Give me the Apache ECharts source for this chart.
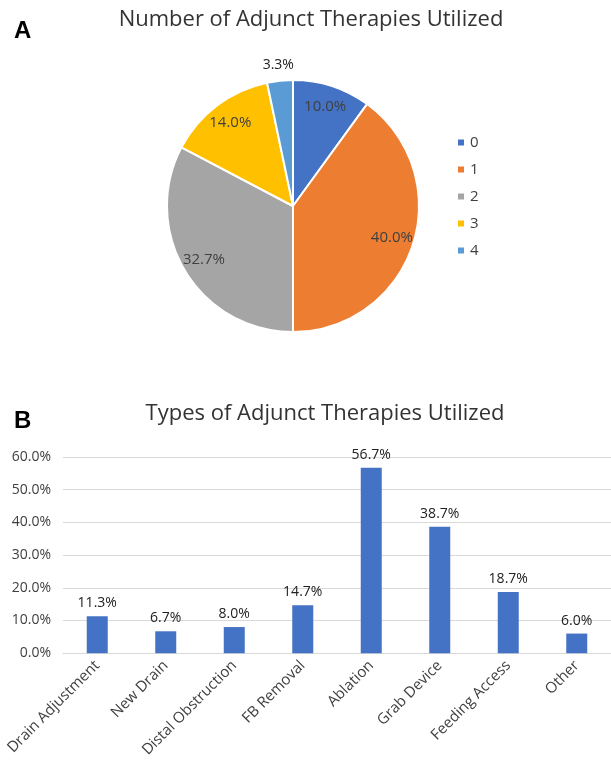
<!DOCTYPE html>
<html>
<head>
<meta charset="utf-8">
<script src="https://cdn.jsdelivr.net/npm/echarts@6/dist/echarts.min.js"></script>
<style>
  html, body { margin: 0; padding: 0; background: #fff; }
  #chart { width: 611px; height: 760px; }
</style>
</head>
<body>
<div id="chart"></div>
<script>
// Panel A: number of adjunct therapies per case (percent of cases)
const pieNames = ['0', '1', '2', '3', '4'];
const pieValues = [10.0, 40.0, 32.7, 14.0, 3.3];
const pieColors = ['#4472C4', '#ED7D31', '#A5A5A5', '#FFC000', '#5B9BD5'];

// Panel B: types of adjunct therapies (percent of cases)
const barCategories = ['Drain Adjustment', 'New Drain', 'Distal Obstruction', 'FB Removal',
  'Ablation', 'Grab Device', 'Feeding Access', 'Other'];
const barValues = [11.3, 6.7, 8.0, 14.7, 56.7, 38.7, 18.7, 6.0];
const yTicks = [0, 10, 20, 30, 40, 50, 60];

const FONT = '"Open Sans", "Noto Sans", sans-serif';
const TEXT = '#404040';

const chart = echarts.init(document.getElementById('chart'), null, { renderer: 'canvas' });

const pieData = pieNames.map((n, i) => ({ name: n, value: pieValues[i], itemStyle: { color: pieColors[i] } }));
const pct = v => v.toFixed(1) + '%';

// Labels for the larger slices sit inside the pie; the small last slice is labelled above the rim
const innerLabelData = pieNames.map((n, i) => ({
  name: n, value: pieValues[i],
  label: { show: i < pieNames.length - 1 }
}));
const outerLabelData = pieNames.map((n, i) => ({
  name: n, value: pieValues[i],
  label: { show: i === pieNames.length - 1 }
}));

const option = {
  animation: false,
  backgroundColor: '#ffffff',
  textStyle: { fontFamily: FONT },
  title: [
    { text: 'A', left: 9, top: 14, textStyle: { fontFamily: 'Liberation Sans, Arial, sans-serif', fontWeight: 'bold', fontSize: 24, color: '#000' } },
    { text: 'Number of Adjunct Therapies Utilized', left: 306, top: 4, textAlign: 'center',
      textStyle: { fontFamily: FONT, fontWeight: 'normal', fontSize: 22, color: '#333' } },
    { text: 'B', left: 9, top: 404, textStyle: { fontFamily: 'Liberation Sans, Arial, sans-serif', fontWeight: 'bold', fontSize: 24, color: '#000' } },
    { text: 'Types of Adjunct Therapies Utilized', left: 320, top: 398, textAlign: 'center',
      textStyle: { fontFamily: FONT, fontWeight: 'normal', fontSize: 22, color: '#333' } }
  ],
  legend: {
    orient: 'vertical',
    left: 451, top: 130,
    itemWidth: 8, itemHeight: 8, itemGap: 12,
    icon: 'rect',
    data: pieNames,
    textStyle: { fontFamily: FONT, fontSize: 15, color: TEXT }
  },
  grid: { left: 63, top: 457, width: 558, height: 197, containLabel: false },
  xAxis: {
    type: 'category',
    data: barCategories,
    axisLine: { show: true, lineStyle: { color: '#D9D9D9' } },
    axisTick: { show: false },
    axisLabel: { rotate: 45, interval: 0, fontFamily: FONT, fontSize: 15, color: TEXT, margin: 10 }
  },
  yAxis: {
    type: 'value',
    min: yTicks[0], max: yTicks[yTicks.length - 1], interval: 10,
    axisLine: { show: false },
    axisTick: { show: false },
    splitLine: { lineStyle: { color: '#D9D9D9', width: 1 } },
    axisLabel: { formatter: v => pct(v), fontFamily: FONT, fontSize: 14, color: TEXT, margin: 12 }
  },
  series: [
    {
      type: 'pie',
      center: [293, 206],
      radius: [0, 126],
      startAngle: 90,
      clockwise: true,
      data: pieData,
      label: { show: false },
      labelLine: { show: false },
      itemStyle: { borderColor: '#ffffff', borderWidth: 2 },
      silent: true
    },
    {
      type: 'pie',
      center: [293, 206],
      radius: [76, 126],
      startAngle: 90,
      clockwise: true,
      data: innerLabelData,
      itemStyle: { color: 'rgba(0,0,0,0)' },
      label: { position: 'inside', formatter: p => pct(p.value), fontFamily: FONT, fontSize: 15, color: TEXT },
      labelLine: { show: false },
      silent: true,
      legendHoverLink: false
    },
    {
      type: 'pie',
      center: [293, 206],
      radius: [126, 152],
      startAngle: 90,
      clockwise: true,
      data: outerLabelData,
      itemStyle: { color: 'rgba(0,0,0,0)' },
      label: { position: 'inside', formatter: p => pct(p.value), fontFamily: FONT, fontSize: 14, color: '#222' },
      labelLine: { show: false },
      silent: true,
      legendHoverLink: false
    },
    {
      type: 'bar',
      data: barValues,
      barWidth: 21,
      itemStyle: { color: '#4472C4' },
      label: { show: true, position: 'top', formatter: p => pct(p.value), fontFamily: FONT, fontSize: 14, color: '#222', distance: 6 }
    }
  ]
};

chart.setOption(option);
</script>
</body>
</html>
